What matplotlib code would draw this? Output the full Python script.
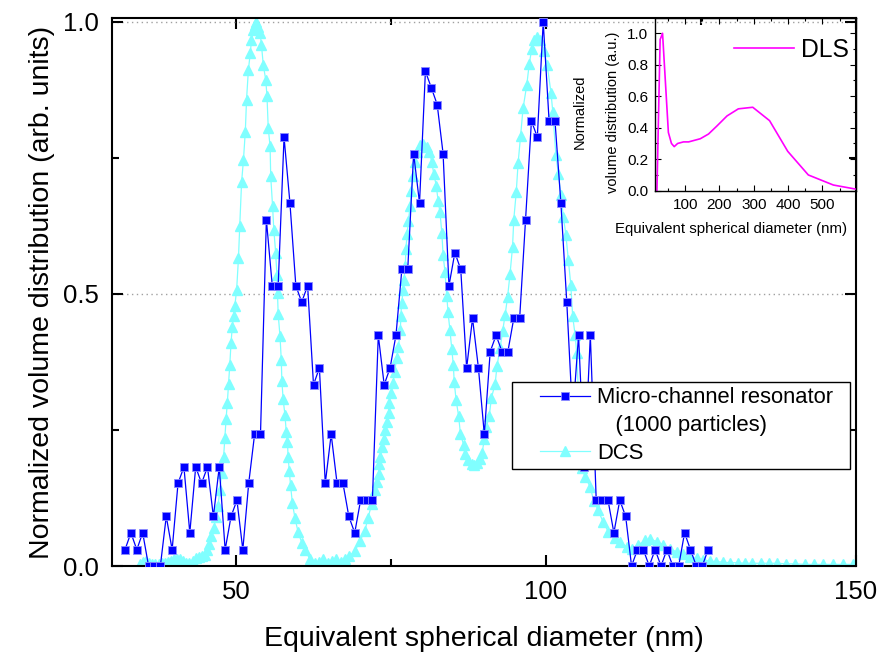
import matplotlib
matplotlib.use('Agg')
import matplotlib.pyplot as plt
from matplotlib.ticker import MultipleLocator, FormatStrFormatter
from matplotlib.legend_handler import HandlerLine2D
from matplotlib.lines import Line2D

plt.rcParams['font.family'] = ['Liberation Sans', 'DejaVu Sans']

# micro-channel resonator, 1000 particles (bin centres in nm)
mcr_x = [32.1, 33.05, 34.0, 34.95, 35.9, 36.85, 37.8, 38.75, 39.7, 40.65,
         41.6, 42.55, 43.5, 44.45, 45.4, 46.35, 47.3, 48.25, 49.2, 50.15,
         51.1, 52.05, 53.0, 53.95, 54.9, 55.85, 56.8, 57.75, 58.7, 59.65,
         60.6, 61.55, 62.5, 63.45, 64.4, 65.35, 66.3, 67.25, 68.2, 69.15,
         70.1, 71.05, 72.0, 72.95, 73.9, 74.85, 75.8, 76.75, 77.7, 78.65,
         79.6, 80.55, 81.5, 82.45, 83.4, 84.35, 85.3, 86.25, 87.2, 88.15,
         89.1, 90.05, 91.0, 91.95, 92.9, 93.85, 94.8, 95.75, 96.7, 97.65,
         98.6, 99.55, 100.5, 101.45, 102.4, 103.35, 104.3, 105.25, 106.2, 107.15,
         108.1, 109.05, 110.0, 110.95, 111.9, 112.85, 113.8, 114.75, 115.7, 116.65,
         117.6, 118.55, 119.5, 120.45, 121.4, 122.35, 123.3, 124.25, 125.2, 126.15]
mcr_y = [0.030, 0.061, 0.030, 0.061, 0.0, 0.0, 0.0, 0.091, 0.030, 0.152,
         0.182, 0.061, 0.182, 0.152, 0.182, 0.091, 0.182, 0.030, 0.091, 0.121,
         0.030, 0.152, 0.242, 0.242, 0.636, 0.515, 0.515, 0.788, 0.667, 0.515,
         0.485, 0.515, 0.333, 0.364, 0.152, 0.242, 0.152, 0.152, 0.091, 0.061,
         0.121, 0.121, 0.121, 0.424, 0.333, 0.364, 0.424, 0.545, 0.545, 0.758,
         0.667, 0.909, 0.879, 0.848, 0.758, 0.515, 0.576, 0.545, 0.364, 0.455,
         0.364, 0.242, 0.394, 0.424, 0.394, 0.394, 0.455, 0.455, 0.636, 0.818,
         0.788, 1.0, 0.818, 0.818, 0.667, 0.485, 0.273, 0.424, 0.182, 0.424,
         0.121, 0.121, 0.121, 0.061, 0.121, 0.091, 0.0, 0.030, 0.030, 0.0,
         0.030, 0.0, 0.030, 0.0, 0.0, 0.061, 0.030, 0.0, 0.0, 0.030]

# disc centrifuge (DCS)
dcs_x = [34.5, 35.0, 35.5, 36.0, 36.5, 37.0, 37.5, 38.0, 38.5, 39.0,
         39.5, 40.0, 40.5, 41.0, 41.5, 42.0, 42.5, 43.0, 43.5, 44.0,
         44.5, 45.0, 45.3, 45.6, 46.0, 46.4, 46.8, 47.1, 47.4, 47.7,
         48.0, 48.2, 48.4, 48.6, 48.8, 49.0, 49.2, 49.4, 49.6, 49.8,
         50.1, 50.4, 50.6, 50.9, 51.2, 51.5, 51.7, 52.0, 52.3, 52.5,
         52.8, 53.1, 53.3, 53.6, 53.9, 54.1, 54.4, 54.8, 55.0, 55.2,
         55.5, 55.6, 55.9, 56.1, 56.4, 56.6, 56.7, 56.8, 57.1, 57.3,
         57.4, 57.6, 57.9, 58.1, 58.3, 58.4, 58.6, 58.8, 59.1, 59.5,
         60.0, 60.6, 61.1, 61.9, 62.7, 63.4, 64.1, 64.8, 65.5, 66.2,
         66.9, 67.6, 68.3, 69.2, 70.0, 70.8, 71.3, 71.9, 72.4, 72.7,
         73.0, 73.1, 73.3, 73.6, 73.8, 74.0, 74.3, 74.6, 74.7, 75.0,
         75.3, 75.6, 75.9, 76.2, 76.5, 76.6, 76.7, 77.0, 77.1, 77.3,
         77.4, 77.6, 77.8, 78.1, 78.3, 78.6, 78.9, 79.2, 79.7, 80.2,
         80.8, 81.2, 81.6, 81.9, 82.3, 82.6, 82.9, 83.2, 83.4, 83.7,
         84.0, 84.2, 84.5, 84.8, 85.05, 85.2, 85.5, 85.9, 86.2, 86.7,
         86.9, 87.5, 88.0, 88.4, 88.9, 89.35, 89.7, 90.05, 90.4, 90.85,
         91.2, 91.8, 92.1, 92.6, 93.0, 93.4, 93.8, 94.2, 94.6, 94.8,
         95.2, 95.5, 95.9, 96.3, 96.9, 97.3, 97.7, 98.1, 98.6, 99.1,
         99.7, 100.2, 100.8, 101.1, 101.6, 102.0, 102.4, 102.8, 103.2, 103.6,
         104.0, 104.3, 104.7, 104.95, 105.3, 105.6, 105.8, 106.3, 107.1, 107.7,
         108.4, 109.2, 110.05, 111.1, 111.9, 113.0, 113.8, 114.9, 116.0, 116.8,
         117.85, 118.9, 120.0, 121.1, 122.1, 123.2, 124.3, 125.4, 126.4, 127.5,
         128.6, 129.7, 130.9, 132.1, 133.3, 134.6, 135.9, 137.3, 138.7, 140.2,
         141.7, 143.2, 144.7, 146.3, 147.9, 149.5]
dcs_y = [0.004, 0.008, 0.010, 0.006, 0.003, 0.003, 0.004, 0.005, 0.006, 0.008,
         0.010, 0.012, 0.013, 0.012, 0.010, 0.006, 0.005, 0.010, 0.014, 0.016,
         0.018, 0.020, 0.030, 0.040, 0.055, 0.070, 0.090, 0.110, 0.140, 0.170,
         0.200, 0.235, 0.270, 0.300, 0.335, 0.370, 0.410, 0.440, 0.460, 0.477,
         0.507, 0.566, 0.624, 0.705, 0.746, 0.798, 0.857, 0.912, 0.942, 0.967,
         0.985, 0.994, 1.0, 0.990, 0.979, 0.958, 0.921, 0.893, 0.863, 0.805,
         0.771, 0.716, 0.661, 0.618, 0.575, 0.535, 0.501, 0.463, 0.422, 0.379,
         0.340, 0.307, 0.277, 0.247, 0.228, 0.201, 0.175, 0.148, 0.115, 0.089,
         0.063, 0.043, 0.030, 0.013, 0.006, 0.008, 0.012, 0.006, 0.010, 0.013,
         0.008, 0.012, 0.018, 0.028, 0.046, 0.065, 0.089, 0.114, 0.139, 0.154,
         0.169, 0.188, 0.201, 0.219, 0.234, 0.249, 0.265, 0.281, 0.300, 0.317,
         0.336, 0.357, 0.382, 0.403, 0.434, 0.459, 0.483, 0.508, 0.526, 0.551,
         0.582, 0.610, 0.634, 0.662, 0.690, 0.717, 0.742, 0.760, 0.773, 0.776,
         0.770, 0.760, 0.742, 0.720, 0.699, 0.671, 0.650, 0.612, 0.572, 0.541,
         0.497, 0.466, 0.434, 0.398, 0.370, 0.338, 0.305, 0.276, 0.243, 0.223,
         0.206, 0.194, 0.188, 0.186, 0.190, 0.196, 0.208, 0.233, 0.256, 0.276,
         0.309, 0.335, 0.368, 0.401, 0.431, 0.461, 0.494, 0.537, 0.586, 0.636,
         0.687, 0.740, 0.791, 0.841, 0.884, 0.923, 0.950, 0.966, 0.973, 0.966,
         0.946, 0.920, 0.870, 0.834, 0.755, 0.720, 0.682, 0.642, 0.609, 0.563,
         0.517, 0.459, 0.424, 0.391, 0.300, 0.220, 0.180, 0.164, 0.146, 0.120,
         0.103, 0.081, 0.063, 0.051, 0.045, 0.035, 0.032, 0.039, 0.047, 0.049,
         0.045, 0.039, 0.031, 0.026, 0.022, 0.017, 0.014, 0.011, 0.009, 0.008,
         0.007, 0.006, 0.006, 0.005, 0.005, 0.005, 0.005, 0.005, 0.004, 0.004,
         0.003, 0.003, 0.003, 0.003, 0.003, 0.003]

# dynamic light scattering (inset)
dls_x = [17.6, 27, 34, 51, 60, 68, 78, 95, 110, 144,
         168, 192, 222, 255, 297, 346, 399, 459, 532, 600]
dls_y = [0.0, 0.96, 1.0, 0.37, 0.30, 0.28, 0.30, 0.31, 0.31, 0.33,
         0.36, 0.41, 0.475, 0.52, 0.53, 0.445, 0.25, 0.10, 0.036, 0.009]

BLUE = '#0000ff'
CYAN = '#80ffff'
MAGENTA = '#ff00ff'

fig = plt.figure(figsize=(8.85, 6.56), dpi=100)
ax = fig.add_axes([112 / 885, 90 / 656, 744 / 885, 548 / 656])

ax.plot(dcs_x, dcs_y, color=CYAN, lw=0.9, marker='^', ms=6.5, mec=CYAN, mfc=CYAN,
        label='DCS', zorder=2)
ax.plot(mcr_x, mcr_y, color=BLUE, lw=0.9, marker='s', ms=5.3, mec='#8c8cff', mew=0.6,
        mfc=BLUE, label='Micro-channel resonator', zorder=3)

ax.set_xlim(30, 150)
ax.set_ylim(0, 1.007)
ax.xaxis.set_major_locator(MultipleLocator(50))
ax.xaxis.set_minor_locator(MultipleLocator(25))
ax.yaxis.set_major_locator(MultipleLocator(0.5))
ax.yaxis.set_minor_locator(MultipleLocator(0.25))
ax.yaxis.set_major_formatter(FormatStrFormatter('%.1f'))
ax.tick_params(which='both', direction='in', top=True, right=True, width=1.5)
ax.tick_params(which='major', length=8)
ax.tick_params(which='minor', length=5)
ax.tick_params(axis='x', labelsize=18.5, pad=10)
ax.tick_params(axis='y', labelsize=18.5, pad=9.5)
for s in ax.spines.values():
    s.set_linewidth(1.5)
ax.yaxis.grid(True, which='major', ls=(0, (1, 2.5)), color='#a0a0a0', lw=1)
ax.set_axisbelow(True)
ax.set_xlabel('Equivalent spherical diameter (nm)', fontsize=20.5, labelpad=16)
ax.set_ylabel('Normalized volume distribution (arb. units)', fontsize=20.5, labelpad=6)

h_mcr = ax.lines[1]
h_dcs = ax.lines[0]
h_blank = Line2D([], [], color='none')
handler = HandlerLine2D(xpad=1.0)
leg = ax.legend([h_mcr, h_blank, h_dcs],
                ['Micro-channel resonator  ', '   (1000 particles)', 'DCS'],
                loc='upper left', bbox_to_anchor=(0.538, 0.336), borderaxespad=0,
                fontsize=15.8, frameon=True, fancybox=False, edgecolor='black',
                framealpha=1, borderpad=0.25, labelspacing=0.3, handlelength=3.3,
                handletextpad=0.3, handler_map={h_mcr: handler, h_dcs: handler, h_blank: handler})
leg.get_frame().set_linewidth(1.0)
leg.set_zorder(5)

# inset with the DLS distribution
ins = fig.add_axes([655 / 885, (656 - 190.7) / 656, 201 / 885, 172.7 / 656])
ins.patch.set_alpha(0)
ins.plot(dls_x, dls_y, color=MAGENTA, lw=1.2, label='DLS')
ins.set_xlim(12, 598)
ins.set_ylim(0, 1.097)
ins.xaxis.set_minor_locator(MultipleLocator(50))
ins.yaxis.set_major_locator(MultipleLocator(0.2))
ins.yaxis.set_minor_locator(MultipleLocator(0.1))
ins.yaxis.set_major_formatter(FormatStrFormatter('%.1f'))
ins.set_xticks([100, 200, 300, 400, 500])
ins.tick_params(which='both', direction='in', top=True, right=True, labelsize=11, width=0.8)
ins.tick_params(which='major', length=4)
ins.tick_params(which='minor', length=2)
ins.tick_params(axis='x', pad=5)
ins.tick_params(axis='y', pad=5)
for s in ins.spines.values():
    s.set_linewidth(1.0)
ins.set_xlabel('Equivalent spherical diameter (nm)', fontsize=10.8)
ins.xaxis.set_label_coords(0.378, -0.18)
ins.set_ylabel('Normalized\nvolume distribution (a.u.)', fontsize=10.5, linespacing=2.75)
ins.yaxis.set_label_coords(-0.172, 0.456)
ins.legend(loc='center right', bbox_to_anchor=(0.965, 0.815), borderaxespad=0,
           borderpad=0, frameon=False, fontsize=17.8, handlelength=2.4,
           handletextpad=0.3)

fig.savefig('out.png', dpi=100)
